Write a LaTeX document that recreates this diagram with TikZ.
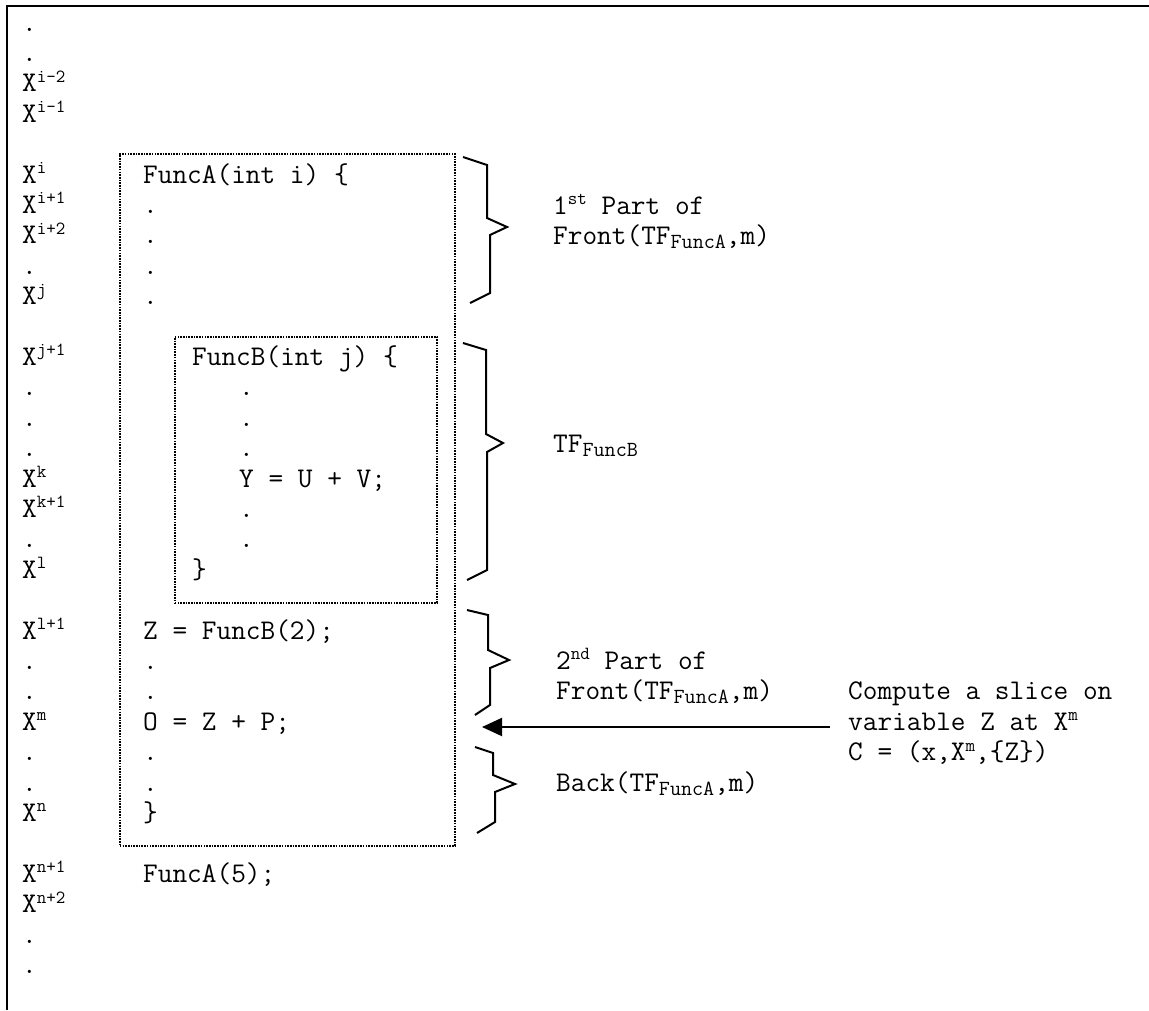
\documentclass[tikz,border=0pt]{standalone}
\usepackage{fontspec}
\usetikzlibrary{arrows.meta}
\newcommand\sups[1]{\raisebox{9.5pt}{\fontsize{18.5}{18.5}\selectfont #1}}
\newcommand\subs[1]{\raisebox{-4pt}{\fontsize{21.5}{21.5}\selectfont #1}}
\begin{document}
\begin{tikzpicture}[x=1pt,y=-1pt,
  txt/.style={anchor=base west, inner sep=0pt, font=\ttfamily\fontsize{28.5}{30}\selectfont},
  dotbox/.style={draw, line width=1.6pt, dash pattern=on 1.6pt off 1.1pt, inner sep=0pt, anchor=north west},
  bracepath/.style={draw, line width=2pt, line join=miter},
  framepath/.style={line width=2pt}]
\useasboundingbox (0,0) rectangle (1149,1010);
% outer frame
\draw[framepath] (7,1010) -- (7,6) -- (1149,6);
% left column
\node[txt] (l0)  at (22,31)    {.};
\node[txt] (l1)  at (22,61.4)  {.};
\node[txt] (l2)  at (22,91.8)  {X\sups{i-2}};
\node[txt] (l3)  at (22,122.2) {X\sups{i-1}};
\node[txt] (l5)  at (22,183)   {X\sups{i}};
\node[txt] (l6)  at (22,213.4) {X\sups{i+1}};
\node[txt] (l7)  at (22,243.8) {X\sups{i+2}};
\node[txt] (l8)  at (22,274.2) {.};
\node[txt] (l9)  at (22,304.6) {X\sups{j}};
\node[txt] (l11) at (22,365.4) {X\sups{j+1}};
\node[txt] (l12) at (22,395.8) {.};
\node[txt] (l13) at (22,426.2) {.};
\node[txt] (l14) at (22,456.6) {.};
\node[txt] (l15) at (22,487)   {X\sups{k}};
\node[txt] (l16) at (22,517.4) {X\sups{k+1}};
\node[txt] (l17) at (22,547.8) {.};
\node[txt] (l18) at (22,578.2) {X\sups{l}};
\node[txt] (l20) at (22,639)   {X\sups{l+1}};
\node[txt] (l21) at (22,669.4) {.};
\node[txt] (l22) at (22,699.8) {.};
\node[txt] (l23) at (22,730.2) {X\sups{m}};
\node[txt] (l24) at (22,760.6) {.};
\node[txt] (l25) at (22,791)   {.};
\node[txt] (l26) at (22,821.4) {X\sups{n}};
\node[txt] (l28) at (22,882.2) {X\sups{n+1}};
\node[txt] (l29) at (22,912.6) {X\sups{n+2}};
\node[txt] (l30) at (22,943)   {.};
\node[txt] (l31) at (22,973.4) {.};
% boxes
\node[dotbox, minimum width=335pt, minimum height=692pt] (boxA) at (119,153) {};
\node[dotbox, minimum width=262pt, minimum height=266pt] (boxB) at (174,336) {};
% code of FuncA
\node[txt] (a0)  at (143,183)   {FuncA(int i) \{};
\node[txt] (a1)  at (143,213.4) {.};
\node[txt] (a2)  at (143,243.8) {.};
\node[txt] (a3)  at (143,274.2) {.};
\node[txt] (a4)  at (143,304.6) {.};
\node[txt] (a5)  at (143,639)   {Z = FuncB(2);};
\node[txt] (a6)  at (143,669.4) {.};
\node[txt] (a7)  at (143,699.8) {.};
\node[txt] (a8)  at (143,730.2) {O = Z + P;};
\node[txt] (a9)  at (143,760.6) {.};
\node[txt] (a10) at (143,791)   {.};
\node[txt] (a11) at (143,821.4) {\}};
\node[txt] (call) at (143,882.2) {FuncA(5);};
% code of FuncB
\node[txt] (b0) at (192,365.4) {FuncB(int j) \{};
\node[txt] (b1) at (239,395.8) {.};
\node[txt] (b2) at (239,426.2) {.};
\node[txt] (b3) at (239,456.6) {.};
\node[txt] (b4) at (239,487)   {Y = U + V;};
\node[txt] (b5) at (239,517.4) {.};
\node[txt] (b6) at (239,547.8) {.};
\node[txt] (b7) at (192,578.2) {\}};
% braces
\draw[bracepath] (463,157) -- (487,165) -- (487,218) -- (507,227) -- (490,235) -- (490,293) -- (470,303);
\draw[bracepath] (463,343) -- (486,350) -- (486,434) -- (503,443) -- (487,452) -- (487,570) -- (467,580);
\draw[bracepath] (467,610) -- (488,615) -- (488,650) -- (509,660) -- (490,668) -- (490,705) -- (475,715);
\draw[bracepath] (475,747) -- (493,753) -- (493,775) -- (515,784) -- (495,792) -- (495,822) -- (477,833);
% labels
\node[txt] (p1a) at (553,214) {1\sups{st} Part of};
\node[txt] (p1b) at (553,244) {Front(TF\subs{FuncA},m)};
\node[txt] (tfb) at (553,452) {TF\subs{FuncB}};
\node[txt] (p2a) at (556,669.4) {2\sups{nd} Part of};
\node[txt] (p2b) at (556,699.8) {Front(TF\subs{FuncA},m)};
\node[txt] (bk)  at (556,791)   {Back(TF\subs{FuncA},m)};
\node[txt] (c1) at (848,699.8) {Compute a slice on};
\node[txt] (c2) at (848,730.2) {variable Z at X\sups{m}};
\node[txt] (c3) at (848,760.6) {C = (x,X\sups{m},\{Z\})};
% arrow
\coordinate (arrtail) at (830,727);
\coordinate (arrhead) at (482,727);
\draw[line width=2pt, -{Triangle[length=20pt,width=18pt]}] (arrtail) -- (arrhead);
\end{tikzpicture}
\end{document}
